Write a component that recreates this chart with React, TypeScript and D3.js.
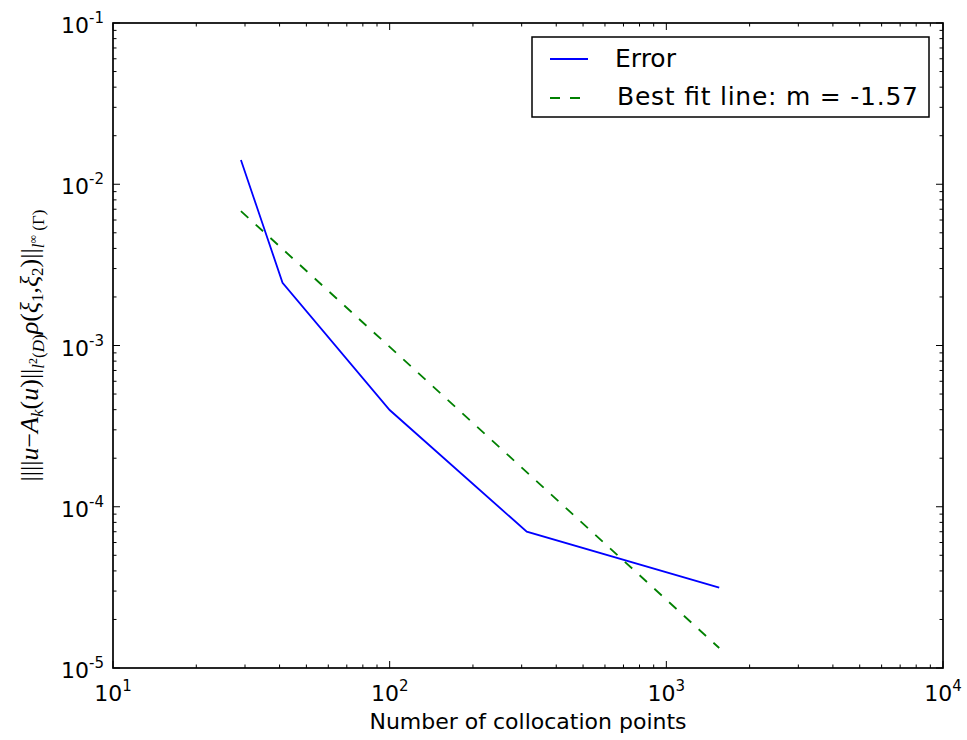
import React from "react";
import * as d3 from "d3";

const collocationPoints = [29, 41, 100, 313, 1553];
const errorValues = [0.01414, 0.00245, 0.000398, 7.0e-5, 3.15e-5];
const fitPoints = [29, 1553];
const fitValues = [0.00682, 1.33e-5];
const xTickExps = [1, 2, 3, 4];
const yTickExps = [-1, -2, -3, -4, -5];
const legendLabels = ["Error", "Best fit line: m = -1.57"];
const xLabel = "Number of collocation points";

const W = 967;
const H = 740;
const L = 113, R = 943, T = 23, B = 668;
const SANS = "'DejaVu Sans', sans-serif";
const SERIF = "'Liberation Serif', 'DejaVu Serif', serif";

export default function App() {
  const x = d3.scaleLog().domain([10, 1e4]).range([L, R]);
  const y = d3.scaleLog().domain([1e-5, 1e-1]).range([B, T]);

  const xMinor: number[] = [];
  for (let e = 1; e < 4; e++) for (let m = 2; m <= 9; m++) xMinor.push(m * Math.pow(10, e));
  const yMinor: number[] = [];
  for (let e = -5; e < -1; e++) for (let m = 2; m <= 9; m++) yMinor.push(m * Math.pow(10, e));

  const line = d3
    .line<[number, number]>()
    .x((d) => x(d[0]))
    .y((d) => y(d[1]));
  const errData = collocationPoints.map((c, i) => [c, errorValues[i]] as [number, number]);
  const fitData = fitPoints.map((c, i) => [c, fitValues[i]] as [number, number]);

  const major = 7, minor = 3.5;
  const tickStroke = { stroke: "#000", strokeWidth: 1 };
  const S = 17; // subscript size

  return (
    <svg width={W} height={H} style={{ display: "block", position: "absolute", left: 0, top: 0, background: "#fff" }}>
      <rect x={0} y={0} width={W} height={H} fill="#fff" />
      {xTickExps.map((e) => {
        const px = x(Math.pow(10, e));
        return (
          <g key={"xt" + e}>
            <line x1={px} x2={px} y1={B} y2={B - major} {...tickStroke} />
            <line x1={px} x2={px} y1={T} y2={T + major} {...tickStroke} />
          </g>
        );
      })}
      {xMinor.map((v, i) => (
        <g key={"xm" + i}>
          <line x1={x(v)} x2={x(v)} y1={B} y2={B - minor} {...tickStroke} />
          <line x1={x(v)} x2={x(v)} y1={T} y2={T + minor} {...tickStroke} />
        </g>
      ))}
      {yTickExps.map((e) => {
        const py = y(Math.pow(10, e));
        return (
          <g key={"yt" + e}>
            <line x1={L} x2={L + major} y1={py} y2={py} {...tickStroke} />
            <line x1={R} x2={R - major} y1={py} y2={py} {...tickStroke} />
          </g>
        );
      })}
      {yMinor.map((v, i) => (
        <g key={"ym" + i}>
          <line x1={L} x2={L + minor} y1={y(v)} y2={y(v)} {...tickStroke} />
          <line x1={R} x2={R - minor} y1={y(v)} y2={y(v)} {...tickStroke} />
        </g>
      ))}

      <path d={line(errData) || ""} fill="none" stroke="#0000ff" strokeWidth={1.8} />
      <path d={line(fitData) || ""} fill="none" stroke="#008000" strokeWidth={1.8} strokeDasharray="10,10" />

      <rect x={L} y={T} width={R - L} height={B - T} fill="none" stroke="#000" strokeWidth={1.7} />

      {xTickExps.map((e) => (
        <text key={"xl" + e} x={x(Math.pow(10, e))} y={B + 33} textAnchor="middle" fontFamily={SANS} fontSize={22} fill="#000">
          10<tspan dy={-10} fontSize={15}>{e}</tspan>
        </text>
      ))}
      {yTickExps.map((e) => (
        <text key={"yl" + e} x={104} y={y(Math.pow(10, e)) + 10} textAnchor="end" fontFamily={SANS} fontSize={22} fill="#000">
          10<tspan dy={-10} fontSize={15}>{e}</tspan>
        </text>
      ))}

      <text x={(L + R) / 2} y={729} textAnchor="middle" fontFamily={SANS} fontSize={22} fill="#000">
        {xLabel}
      </text>

      <g transform={`translate(38, ${(T + B) / 2}) rotate(-90)`}>
        <text x={0} y={0} textAnchor="middle" fontFamily={SERIF} fontSize={26} fill="#000">
          <tspan>||||</tspan>
          <tspan fontStyle="italic">u</tspan>
          <tspan>−</tspan>
          <tspan fontStyle="italic">A</tspan>
          <tspan fontStyle="italic" fontSize={S} dy={5}>k</tspan>
          <tspan dy={-5}>(</tspan>
          <tspan fontStyle="italic">u</tspan>
          <tspan>)||</tspan>
          <tspan fontStyle="italic" fontSize={S} dy={6}>l</tspan>
          <tspan fontSize={12} dy={-7}>2</tspan>
          <tspan fontSize={S} dy={7}>(</tspan>
          <tspan fontSize={S} fontStyle="italic">D</tspan>
          <tspan fontSize={S}>)</tspan>
          <tspan fontStyle="italic" dy={-6}>ρ</tspan>
          <tspan>(</tspan>
          <tspan fontStyle="italic">ξ</tspan>
          <tspan fontSize={S} dy={5}>1</tspan>
          <tspan dy={-5}>,</tspan>
          <tspan fontStyle="italic">ξ</tspan>
          <tspan fontSize={S} dy={5}>2</tspan>
          <tspan dy={-5}>)||</tspan>
          <tspan fontStyle="italic" fontSize={S} dy={6}>l</tspan>
          <tspan fontSize={12} dy={-7}>∞</tspan>
          <tspan fontSize={S} dy={7}> (Γ)</tspan>
        </text>
      </g>

      <rect x={532} y={37} width={397} height={80} fill="#fff" stroke="#000" strokeWidth={1.5} />
      <line x1={550} x2={588} y1={59} y2={59} stroke="#0000ff" strokeWidth={1.8} />
      <line x1={550} x2={588} y1={98} y2={98} stroke="#008000" strokeWidth={1.8} strokeDasharray="10,10" />
      <text x={615} y={67} fontFamily={SANS} fontSize={25} fill="#000">{legendLabels[0]}</text>
      <text x={617} y={105} fontFamily={SANS} fontSize={25} textLength={301} lengthAdjust="spacing" fill="#000">{legendLabels[1]}</text>
    </svg>
  );
}
